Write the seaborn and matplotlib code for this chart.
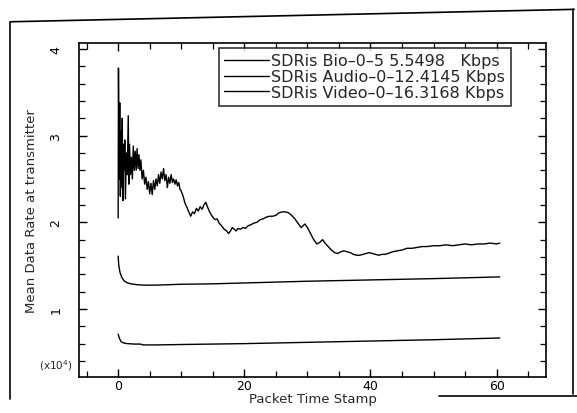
import numpy as np
import pandas as pd
import matplotlib
matplotlib.use('Agg')
import matplotlib.pyplot as plt
from matplotlib.lines import Line2D
from matplotlib.ticker import MultipleLocator
import seaborn as sns

labels = [
    'SDRis Bio–0–5 5.5498   Kbps',
    'SDRis Audio–0–12.4145 Kbps',
    'SDRis Video–0–16.3168 Kbps',
]

# Bio (bottom curve), values in units of 10^4
bio_x = [0, 0.2, 0.5, 1.0, 1.5, 2.5, 3.5, 4.0, 6, 10, 20, 30, 40, 50, 60.5]
bio_y = [0.71, 0.66, 0.62, 0.605, 0.60, 0.595, 0.595, 0.585, 0.585, 0.59,
         0.60, 0.615, 0.63, 0.645, 0.665]

# Audio (middle curve)
audio_x = [0, 0.1, 0.3, 0.6, 1.0, 1.5, 2.0, 3.0, 4.0, 6, 8, 10, 15, 20, 30,
           40, 50, 60.5]
audio_y = [1.61, 1.5, 1.42, 1.36, 1.32, 1.30, 1.29, 1.28, 1.275, 1.275, 1.28,
           1.285, 1.29, 1.30, 1.32, 1.335, 1.35, 1.37]

# Video (top, noisy curve)
video_x = [0.0, 0.05, 0.15, 0.25, 0.35, 0.45, 0.55, 0.65, 0.75, 0.85, 0.95,
           1.05, 1.15, 1.3, 1.45, 1.6, 1.7, 1.8, 1.95, 2.1, 2.25, 2.4, 2.55,
           2.7, 2.85, 3.0, 3.15, 3.3, 3.45, 3.6, 3.8, 4.0, 4.2, 4.4, 4.6, 4.8,
           5.0, 5.2, 5.4, 5.6, 5.8, 6.0, 6.2, 6.4, 6.6, 6.8, 7.0, 7.2, 7.4,
           7.6, 7.8, 8.0, 8.2, 8.4, 8.6, 8.8, 9.0, 9.2, 9.4, 9.6, 9.8, 10.0,
           10.3, 10.6, 10.9, 11.2, 11.5, 11.8, 12.1, 12.4, 12.7, 13.0, 13.3,
           13.6, 13.9, 14.2, 14.5, 14.8, 15.1, 15.4, 15.7, 16.0, 16.4, 16.8,
           17.2, 17.5, 17.8, 18.1, 18.4, 18.7, 19.0, 19.4, 19.8, 20.2, 20.6,
           21.0, 21.5, 22.0, 22.5, 23.0, 23.5, 24.0, 24.5, 25.0, 25.5, 26.0,
           26.5, 27.0, 27.5, 28.0, 28.5, 29.0, 29.3, 29.6, 30.0, 30.5, 31.0,
           31.5, 32.0, 32.4, 32.8, 33.3, 33.8, 34.3, 34.8, 35.3, 35.8, 36.3,
           36.8, 37.3, 37.8, 38.3, 38.8, 39.3, 39.8, 40.3, 40.8, 41.3, 41.8,
           42.3, 42.8, 43.5, 44.2, 45.0, 45.8, 46.6, 47.4, 48.2, 49.0, 50.0,
           51.0, 52.0, 53.0, 54.0, 55.0, 56.0, 57.0, 58.0, 59.0, 60.0, 60.5]
video_y = [2.05, 3.78, 2.5, 3.38, 2.3, 3.05, 2.4, 3.2, 2.25, 2.9, 2.6,
           2.95, 2.27, 2.8, 2.55, 3.23, 2.44, 2.9, 2.55, 2.75, 2.5, 2.88, 2.6,
           2.82, 2.6, 2.85, 2.62, 2.78, 2.6, 2.72, 2.5, 2.6, 2.44, 2.52, 2.38,
           2.47, 2.33, 2.45, 2.32, 2.48, 2.38, 2.5, 2.42, 2.55, 2.45, 2.58,
           2.5, 2.62, 2.48, 2.55, 2.4, 2.52, 2.45, 2.55, 2.46, 2.5, 2.44, 2.49,
           2.42, 2.46, 2.38, 2.36, 2.3, 2.22, 2.17, 2.12, 2.07, 2.12, 2.1,
           2.16, 2.13, 2.18, 2.15, 2.2, 2.23, 2.17, 2.12, 2.08, 2.05, 2.03,
           2.04, 1.99, 1.96, 1.92, 1.9, 1.87, 1.9, 1.94, 1.92, 1.9, 1.93,
           1.92, 1.94, 1.93, 1.96, 1.97, 1.99, 2.0, 2.03, 2.04, 2.06, 2.07,
           2.07, 2.08, 2.11, 2.12, 2.12, 2.11, 2.08, 2.04, 1.99, 1.94, 1.96,
           1.98, 1.94, 1.87, 1.8, 1.75, 1.77, 1.8, 1.76, 1.72, 1.68, 1.65,
           1.64, 1.66, 1.67, 1.66, 1.65, 1.63, 1.62, 1.62, 1.63, 1.64, 1.65,
           1.64, 1.63, 1.62, 1.63, 1.63, 1.64, 1.66, 1.67, 1.68, 1.7, 1.7,
           1.71, 1.72, 1.72, 1.73, 1.73, 1.74, 1.73, 1.74, 1.75, 1.74, 1.75,
           1.75, 1.76, 1.75, 1.76]

df = pd.concat([
    pd.DataFrame({'x': bio_x, 'y': bio_y, 'series': labels[0]}),
    pd.DataFrame({'x': audio_x, 'y': audio_y, 'series': labels[1]}),
    pd.DataFrame({'x': video_x, 'y': video_y, 'series': labels[2]}),
])

sns.set_style('ticks')
plt.rcParams['font.family'] = ['DejaVu Sans']

fig = plt.figure(figsize=(5.77, 4.14), dpi=100)
ax = fig.add_axes([0.137, 0.088, 0.809, 0.806])

sns.lineplot(data=df, x='x', y='y', hue='series', hue_order=labels,
             palette=['black'] * 3, estimator=None, sort=False,
             linewidth=1.0, ax=ax, legend=False)

ax.set_xlim(-6.2, 67.8)
ax.set_ylim(0.22, 4.07)
ax.xaxis.set_major_locator(MultipleLocator(20))
ax.xaxis.set_minor_locator(MultipleLocator(5))
ax.yaxis.set_major_locator(MultipleLocator(1))
ax.yaxis.set_minor_locator(MultipleLocator(0.2))
ax.tick_params(which='both', direction='in', top=True, right=True,
               colors='black', labelsize=9)
ax.tick_params(which='major', length=6, width=1.0)
ax.tick_params(which='minor', length=4, width=0.9)
for lab in ax.get_yticklabels():
    lab.set_rotation(90)
    lab.set_va('center')
ax.tick_params(axis='y', pad=12)
ax.tick_params(axis='x', pad=2)
for sp in ax.spines.values():
    sp.set_linewidth(1.2)
    sp.set_color('black')

ax.set_xlabel('Packet Time Stamp', fontsize=9.5, labelpad=0)
ax.set_ylabel('Mean Data Rate at transmitter', fontsize=9.5, labelpad=8)
ax.text(-0.015, 0.035, '(x10$^4$)', transform=ax.transAxes, ha='right',
        va='center', fontsize=7.5)

handles = [Line2D([], [], color='black', linewidth=1.0) for _ in labels]
leg = ax.legend(handles, labels, loc='upper right',
                bbox_to_anchor=(0.925, 0.985), borderaxespad=0,
                fontsize=11.5, handlelength=2.8, handletextpad=0.15,
                labelspacing=0.05, frameon=True, fancybox=False,
                borderpad=0.35)
leg.get_frame().set_edgecolor('black')
leg.get_frame().set_linewidth(1.2)

# outer frame of the scanned figure
fig.add_artist(Line2D([0.018, 0.018], [0.035, 0.945], color='black', lw=1.2))
fig.add_artist(Line2D([0.018, 0.995], [0.945, 0.975], color='black', lw=1.2))
fig.add_artist(Line2D([0.993, 0.993], [0.975, 0.045], color='black', lw=1.2))
fig.add_artist(Line2D([0.76, 1.0], [0.04, 0.04], color='black', lw=1.2))

fig.savefig('out.png', dpi=100)
